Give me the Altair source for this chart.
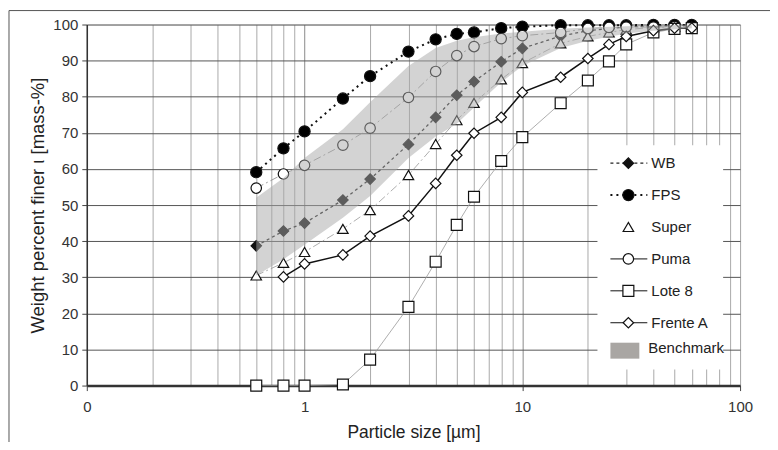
import altair as alt
import pandas as pd

# ---------------- data ----------------
x_sizes = [0.6, 0.8, 1, 1.5, 2, 3, 4, 5, 6, 8, 10, 15, 20, 25, 30, 40, 50, 60]
wb = [38.7, 42.8, 45.0, 51.4, 57.2, 66.8, 74.3, 80.4, 84.2, 89.7, 93.4, 96.8, 98.3, 98.9, 99.3, 99.6, 99.7, 99.8]
fps = [59.1, 65.7, 70.4, 79.5, 85.7, 92.5, 95.9, 97.4, 97.8, 99.0, 99.4, 99.8, 99.8, 99.8, 99.8, 99.9, 99.9, 99.9]
super_ = [30.5, 34.0, 37.0, 43.4, 48.6, 58.3, 66.9, 73.5, 78.3, 84.8, 89.3, 94.8, 96.7, 97.8, 98.6, 99.2, 99.4, 99.5]
puma = [54.7, 58.6, 61.0, 66.6, 71.3, 79.8, 87.0, 91.4, 93.9, 96.1, 96.9, 97.8, 98.9, 99.2, 99.3, 99.3, 99.4, 99.0]
lote8 = [0, 0, 0, 0.3, 7.2, 21.8, 34.3, 44.5, 52.3, 62.2, 68.8, 78.2, 84.5, 89.8, 94.5, 97.8, 98.8, 99.0]
frente_x = [0.8, 1, 1.5, 2, 3, 4, 5, 6, 8, 10, 15, 20, 25, 30, 40, 50, 60]
frente = [30.1, 33.7, 36.2, 41.4, 47.0, 56.0, 63.8, 69.9, 74.3, 81.2, 85.4, 90.6, 94.5, 96.7, 98.3, 99.0, 99.0]

band_x = [0.6, 0.8, 1, 1.5, 2, 3, 4, 5, 6, 8, 10, 15, 20, 30, 40, 60]
band_low = [30.5, 35, 39, 46.5, 52.5, 63, 69, 72.5, 77, 84, 88.5, 93.5, 95.5, 97.5, 98.3, 99]
band_high = [52, 57.5, 63, 71, 78.5, 88.5, 93.5, 95.5, 96.5, 97.5, 98, 98.8, 99.2, 99.5, 99.7, 100]

x_ticks = [round(m * 10 ** e, 6) for e in (-1, 0, 1) for m in range(1, 10)] + [100]
x_label_ticks = [0.1, 1, 10, 100]
y_ticks = list(range(0, 101, 10))

series_names = ["WB", "FPS", "Super", "Puma", "Lote 8", "Frente A"]
series_data = {
    "WB": (x_sizes, wb),
    "FPS": (x_sizes, fps),
    "Super": (x_sizes, super_),
    "Puma": (x_sizes, puma),
    "Lote 8": (x_sizes, lote8),
    "Frente A": (frente_x, frente),
}
benchmark_name = "Benchmark"

FONT = "Liberation Sans"

styles = {
    "WB": dict(line=dict(color="#222", strokeWidth=1.3, strokeDash=[3, 3]), shape="diamond", fill="#111", size=110),
    "FPS": dict(line=dict(color="#111", strokeWidth=2, strokeDash=[2, 4]), shape="circle", fill="#000", size=125),
    "Super": dict(line=dict(color="#999", strokeWidth=0.8, strokeDash=[8, 3, 2, 3]), shape="triangle-up", fill="white", size=110),
    "Puma": dict(line=dict(color="#888", strokeWidth=0.8, strokeDash=[8, 3, 2, 3]), shape="circle", fill="white", size=110),
    "Lote 8": dict(line=dict(color="#999", strokeWidth=0.8), shape="square", fill="white", size=120),
    "Frente A": dict(line=dict(color="#111", strokeWidth=1.5), shape="diamond", fill="white", size=110),
}

xscale = alt.Scale(type="log", domain=[0.1, 100], nice=False)
yscale = alt.Scale(domain=[0, 100], nice=False)

label_list = "[" + ",".join(str(v) for v in x_label_ticks) + "]"
xaxis = alt.Axis(
    values=x_ticks,
    labelExpr=f"indexof({label_list}, datum.value) >= 0 ? (datum.value < 1 ? '0' : format(datum.value, 'd')) : ''",
    grid=True,
    gridColor={"condition": {"test": "indexof([1,10], datum.value) >= 0", "value": "#8a8a8a"}, "value": "#aaaaaa"},
    tickColor={"condition": {"test": f"indexof({label_list}, datum.value) >= 0", "value": "#444"}, "value": "transparent"},
    tickSize=5,
    labelPadding=9,
    labelFontSize=15,
    labelColor="#333",
    labelFont=FONT,
    labelFlush=False,
    labelOverlap=False,
    domainColor="#333",
    domainWidth=2.5,
    title="Particle size [µm]",
    titleFont=FONT,
    titleFontSize=17.5,
    titleFontWeight="normal",
    titleColor="#222",
    titleY=47,
    titleBaseline="middle",
)
yaxis = alt.Axis(
    values=y_ticks,
    grid=True,
    gridColor="#555",
    tickColor="#444",
    tickSize=5,
    labelPadding=4,
    labelFontSize=15,
    labelColor="#333",
    labelFont=FONT,
    domainColor="#333",
    domainWidth=1.5,
    title="Weight percent finer ι [mass-%]",
    titleFont=FONT,
    titleFontSize=18.5,
    titleFontWeight="normal",
    titleColor="#222",
    titleX=-49,
    titleY=181,
    titleAngle=270,
    titleAlign="center",
    titleBaseline="middle",
)

rows = []
for name in series_names:
    xs, ys = series_data[name]
    for xv, yv in zip(xs, ys):
        rows.append({"series": name, "size": xv, "value": yv})
df = pd.DataFrame(rows)
band_df = pd.DataFrame({"size": band_x, "low": band_low, "high": band_high})

layers = []
for name in series_names:
    st = styles[name]
    sub = alt.Chart(df[df.series == name])
    enc = dict(
        x=alt.X("size:Q", scale=xscale, axis=xaxis),
        y=alt.Y("value:Q", scale=yscale, axis=yaxis),
    )
    layers.append(sub.mark_line(**st["line"]).encode(**enc))
    layers.append(
        sub.mark_point(shape=st["shape"], size=st["size"], filled=True, fill=st["fill"],
                       stroke="#111", strokeWidth=1.2, opacity=1).encode(**enc)
    )

band = alt.Chart(band_df).mark_area(color="#a8a8a8", opacity=0.5).encode(
    x=alt.X("size:Q", scale=xscale, axis=xaxis),
    y=alt.Y("low:Q", scale=yscale, axis=yaxis),
    y2="high:Q",
)
layers.append(band)

# ---------------- custom legend ----------------
one = pd.DataFrame({"a": [0]})
layers.append(
    alt.Chart(one).mark_rect(fill="white", stroke="white", strokeWidth=0).encode(
        x=alt.value(512), x2=alt.value(638), y=alt.value(121), y2=alt.value(346)
    )
)
leg_x_line0, leg_x_line1, leg_x_sym, leg_x_text = 525, 562, 543, 566
leg_y0, leg_dy = 139, 32
legend_lines = {
    "WB": dict(color="#222", strokeWidth=1.3, strokeDash=[3, 3]),
    "FPS": dict(color="#111", strokeWidth=2, strokeDash=[2, 4]),
    "Puma": dict(color="#111", strokeWidth=1),
    "Lote 8": dict(color="#111", strokeWidth=1),
    "Frente A": dict(color="#111", strokeWidth=1),
}
for i, name in enumerate(series_names):
    st = styles[name]
    yy = leg_y0 + i * leg_dy
    lbl = pd.DataFrame({"label": [name]})
    if name in legend_lines:
        layers.append(
            alt.Chart(lbl).mark_rule(**legend_lines[name]).encode(
                x=alt.value(leg_x_line0), x2=alt.value(leg_x_line1), y=alt.value(yy)
            )
        )
    layers.append(
        alt.Chart(lbl).mark_point(shape=st["shape"], size=st["size"], filled=True, fill=st["fill"],
                                  stroke="#111", strokeWidth=1.2, opacity=1).encode(
            x=alt.value(leg_x_sym), y=alt.value(yy)
        )
    )
    layers.append(
        alt.Chart(lbl).mark_text(align="left", baseline="middle", font=FONT, fontSize=15, color="#222").encode(
            text="label:N", x=alt.value(leg_x_text), y=alt.value(yy)
        )
    )
bm = pd.DataFrame({"label": [benchmark_name]})
layers.append(
    alt.Chart(bm).mark_rect(fill="#a9a6a3").encode(
        x=alt.value(525), x2=alt.value(554), y=alt.value(319), y2=alt.value(335)
    )
)
layers.append(
    alt.Chart(bm).mark_text(align="left", baseline="middle", font=FONT, fontSize=15, color="#222").encode(
        text="label:N", x=alt.value(563), y=alt.value(324)
    )
)

# outer frame
layers.append(
    alt.Chart(one).mark_rect(fillOpacity=0, stroke="#555", strokeWidth=1).encode(
        x=alt.value(-78), x2=alt.value(720), y=alt.value(-14), y2=alt.value(460)
    )
)

chart = alt.layer(*layers).properties(
    width=655,
    height=362,
    padding={"left": 79, "top": 16, "right": 30, "bottom": 56},
    autosize=alt.AutoSizeParams(type="none"),
    background="white",
).configure_view(stroke="#555", strokeWidth=1).configure(font=FONT)

chart.save("out.html", embed_options={"renderer": "svg", "actions": False})
